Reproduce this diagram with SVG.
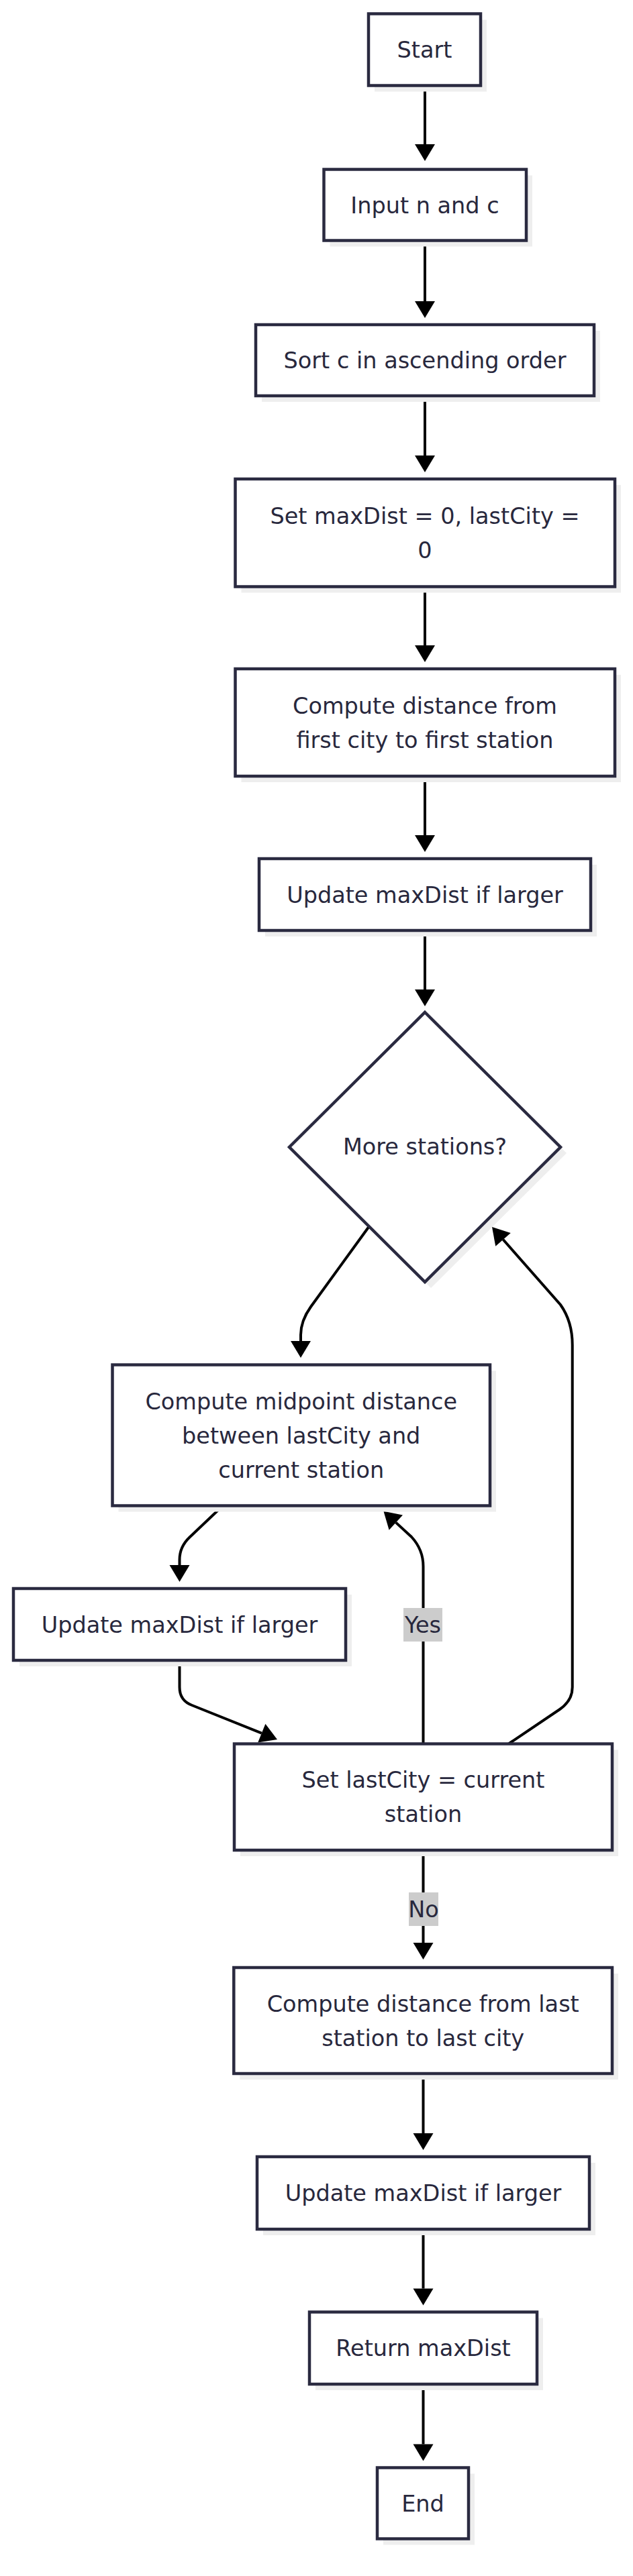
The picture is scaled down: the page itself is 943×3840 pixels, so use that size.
<svg xmlns="http://www.w3.org/2000/svg" width="943" height="3840" viewBox="0 0 943 3840">
<defs>
<style>
.box{fill:#ffffff;stroke:#2a2a40;stroke-width:4.5}
.shadow{fill:#eeeeee;stroke:none}
.t{font-family:"DejaVu Sans","Noto Sans",sans-serif;font-size:33.5px;fill:#28283d;text-anchor:middle}
.edge{fill:none;stroke:#000000;stroke-width:4;marker-end:url(#arrow)}
.lbl{fill:#cccccc}
</style>
<marker id="arrow" markerUnits="userSpaceOnUse" markerWidth="26" markerHeight="32" refX="0" refY="15" orient="auto" overflow="visible">
<path d="M0,0 L25,15 L0,30 Z" fill="#000000"/>
</marker>
</defs>
<rect width="943" height="3840" fill="#ffffff"/>

<g id="connectors">
<path class="edge" d="M633,127.5 V215"/>
<path class="edge" d="M633,358.5 V449"/>
<path class="edge" d="M633,590 V679"/>
<path class="edge" d="M633,874.5 V962"/>
<path class="edge" d="M633,1157 V1245"/>
<path class="edge" d="M633,1387 V1475"/>
<path class="edge" d="M550,1828 L463,1948 Q448,1969 448,1990 V1999"/>
<path class="edge" d="M332,2244.5 L282,2292 Q267.5,2306 267.5,2325 V2333"/>
<path class="edge" d="M267.5,2475 V2515 Q267.5,2535 286,2542 L389.8,2583.7"/>
<path class="edge" d="M630.5,2599.5 V2335 Q630.5,2310 613,2291 L589.8,2269.6"/>
<path class="edge" d="M757.7,2599.5 L834,2548 Q852.7,2535 852.7,2515 V2005 Q852.7,1970 835,1945 L749.5,1847.8"/>
<path class="edge" d="M630.5,2758 V2896"/>
<path class="edge" d="M630.5,3091 V3180"/>
<path class="edge" d="M630.5,3323 V3411.5"/>
<path class="edge" d="M630.5,3554 V3643.5"/>
<g id="label-yes">
<rect class="lbl" x="601" y="2397" width="58" height="50"/>
<text class="t" x="630" y="2434">Yes</text>
</g>
<g id="label-no">
<rect class="lbl" x="609" y="2821" width="44" height="50"/>
<text class="t" x="631" y="2858">No</text>
</g>
</g>

<g id="start">
<rect class="shadow" x="558" y="29.5" width="167" height="107"/>
<rect class="box" x="549" y="20.5" width="167" height="107"/>
<text class="t" x="632.5" y="86">Start</text>
</g>
<g id="input">
<rect class="shadow" x="491.5" y="261.5" width="301.5" height="106"/>
<rect class="box" x="482.5" y="252.5" width="301.5" height="106"/>
<text class="t" x="633" y="317.5">Input n and c</text>
</g>
<g id="sort">
<rect class="shadow" x="390" y="493" width="504" height="106"/>
<rect class="box" x="381" y="484" width="504" height="106"/>
<text class="t" x="633" y="549">Sort c in ascending order</text>
</g>
<g id="init">
<rect class="shadow" x="359.5" y="723" width="565.5" height="160.5"/>
<rect class="box" x="350.5" y="714" width="565.5" height="160.5"/>
<text class="t" x="633" y="780.5">Set maxDist = 0, lastCity =</text>
<text class="t" x="633" y="831.5">0</text>
</g>
<g id="first">
<rect class="shadow" x="359.5" y="1006" width="565.5" height="160"/>
<rect class="box" x="350.5" y="997" width="565.5" height="160"/>
<text class="t" x="633" y="1063.5">Compute distance from</text>
<text class="t" x="633" y="1114.5">first city to first station</text>
</g>
<g id="update1">
<rect class="shadow" x="395" y="1289" width="494" height="107"/>
<rect class="box" x="386" y="1280" width="494" height="107"/>
<text class="t" x="633" y="1345.5">Update maxDist if larger</text>
</g>
<g id="decision">
<polygon class="shadow" points="642,1518 844,1719 642,1920 440,1719"/>
<polygon class="box" points="633,1509 835,1710 633,1911 431,1710"/>
<text class="t" x="633" y="1721">More stations?</text>
</g>
<g id="midpoint">
<rect class="shadow" x="176.5" y="2043.5" width="562.5" height="210"/>
<rect class="box" x="167.5" y="2034.5" width="562.5" height="210"/>
<text class="t" x="448.75" y="2100.5">Compute midpoint distance</text>
<text class="t" x="448.75" y="2151.5">between lastCity and</text>
<text class="t" x="448.75" y="2202.5">current station</text>
</g>
<g id="update2">
<rect class="shadow" x="29" y="2377" width="495" height="107"/>
<rect class="box" x="20" y="2368" width="495" height="107"/>
<text class="t" x="267.5" y="2433.5">Update maxDist if larger</text>
</g>
<g id="setlast">
<rect class="shadow" x="358" y="2608.5" width="563" height="158.5"/>
<rect class="box" x="349" y="2599.5" width="563" height="158.5"/>
<text class="t" x="630.5" y="2665">Set lastCity = current</text>
<text class="t" x="630.5" y="2716">station</text>
</g>
<g id="last">
<rect class="shadow" x="357.3" y="2942" width="563.7" height="158"/>
<rect class="box" x="348.3" y="2933" width="563.7" height="158"/>
<text class="t" x="630.2" y="2998.5">Compute distance from last</text>
<text class="t" x="630.2" y="3049.5">station to last city</text>
</g>
<g id="update3">
<rect class="shadow" x="392" y="3224" width="495" height="108"/>
<rect class="box" x="383" y="3215" width="495" height="108"/>
<text class="t" x="630.5" y="3281">Update maxDist if larger</text>
</g>
<g id="return">
<rect class="shadow" x="470" y="3455.5" width="339" height="107.5"/>
<rect class="box" x="461" y="3446.5" width="339" height="107.5"/>
<text class="t" x="630.5" y="3512">Return maxDist</text>
</g>
<g id="end">
<rect class="shadow" x="571" y="3687.5" width="136" height="106"/>
<rect class="box" x="562" y="3678.5" width="136" height="106"/>
<text class="t" x="630" y="3743.5">End</text>
</g>
</svg>
